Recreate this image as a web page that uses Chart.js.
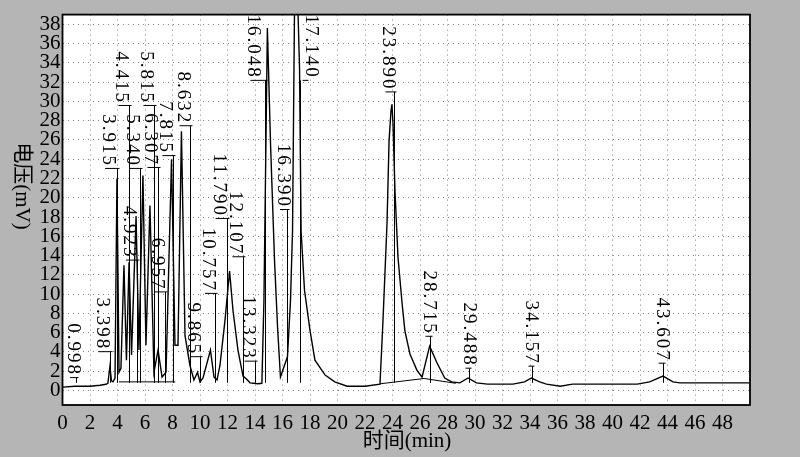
<!DOCTYPE html>
<html><head><meta charset="utf-8">
<script src="https://cdn.jsdelivr.net/npm/chart.js@4.4.1/dist/chart.umd.min.js"></script>
<style>html,body{margin:0;padding:0;background:#b5b5b5;}#wrap{width:800px;height:457px;position:relative;}</style>
</head><body><div id="wrap"><canvas id="c" width="800" height="457"></canvas></div>
<script>
// chromatogram trace: time (min) and voltage (mV)
const signalTime = [0.0,0.9,2.0,2.73,3.16,3.3,3.45,3.56,3.67,3.82,3.96,4.11,4.25,4.47,4.65,4.84,5.02,5.35,5.56,5.85,6.07,6.36,6.65,6.95,7.24,7.53,7.93,8.18,8.4,8.65,8.91,9.27,9.56,9.82,10.0,10.22,10.76,11.02,11.24,11.45,11.82,12.15,12.4,12.76,13.13,13.38,13.64,14.2,14.5,14.65,14.9,15.13,15.42,15.64,15.85,16.36,16.58,16.73,16.87,17.0,17.24,17.35,17.6,18.0,18.36,19.1,19.8,20.7,22.0,23.09,23.3,23.6,23.75,23.89,23.96,24.04,24.18,24.4,24.7,24.9,25.27,25.78,26.15,26.7,27.24,27.8,28.3,28.9,29.5,30.1,30.9,32.76,33.6,34.1,34.7,35.2,36.2,37.1,38.9,41.8,42.7,43.67,44.4,44.9,50.0];
const signalMv   = [0.35,0.45,0.45,0.55,0.65,0.75,2.5,1.0,0.9,1.3,22.0,1.9,2.3,13.0,3.15,13.3,3.7,18.1,4.2,22.3,4.7,19.2,1.9,4.2,1.4,1.9,24.0,4.7,4.7,26.9,5.7,2.6,1.1,1.9,0.9,1.3,4.2,1.4,1.1,2.6,7.3,12.4,8.3,4.2,1.5,1.2,0.8,0.7,0.75,9.3,37.6,25.6,13.5,6.6,1.4,3.5,9.3,16.6,39.0,46.0,33.4,16.6,10.4,6.25,3.15,1.6,0.9,0.45,0.45,0.67,7.0,17.3,25.9,29.0,29.7,27.6,20.7,13.8,9.0,6.2,3.8,2.1,1.4,4.6,2.85,1.3,0.9,0.8,1.3,0.8,0.67,0.67,0.9,1.3,0.9,0.67,0.45,0.67,0.67,0.67,0.9,1.5,0.9,0.8,0.8];
// integration baseline segments
const baseTime = [4.1,8.2,null,23.1,26.3,28.6];
const baseMv   = [0.9,0.9,null,0.7,1.25,0.75];
// peak annotations
const peakLabels = ['0.998','3.398','3.915','4.415','4.923','5.340','5.815','6.307','6.957','7.815','8.632','9.865','10.757','11.790','12.107','13.323','16.048','16.390','17.140','23.890','28.715','29.488','34.157','43.607'];
const labelTime  = [0.84,2.91,3.38,4.36,4.91,5.16,6.18,6.47,6.98,7.56,8.8,9.56,10.65,11.42,12.65,13.53,13.96,16.11,18.18,23.78,26.69,29.6,34.18,43.64];
const labelTopMv = [6.97,9.66,28.67,35.2,19.16,28.67,35.2,28.77,15.86,30.0,33.1,9.14,16.9,24.6,20.7,9.87,39.0,25.6,39.0,37.8,12.45,9.14,9.35,9.66];
const markTime   = [0.98,3.45,3.96,4.84,5.42,5.64,6.65,6.95,7.45,8.0,9.3,10.0,11.1,11.95,13.1,14.0,14.75,16.36,17.3,24.1,26.7,29.55,34.15,43.65];
const xTicksMax = 48;

const serif = '"Liberation Serif","Noto Sans CJK SC",serif';
const deco = {
  id:'deco',
  beforeDraw(chart){
    const {ctx, chartArea:a} = chart;
    ctx.save();
    ctx.fillStyle='#b5b5b5'; ctx.fillRect(0,0,chart.width,chart.height);
    ctx.fillStyle='#ffffff'; ctx.fillRect(a.left,a.top,a.right-a.left,a.bottom-a.top);
    ctx.restore();
  },
  afterDatasetsDraw(chart){
    const {ctx, chartArea:a, scales:{x,y}} = chart;
    ctx.save();
    ctx.beginPath(); ctx.rect(a.left,a.top,a.right-a.left,a.bottom-a.top); ctx.clip();
    ctx.font = '19px '+serif;
    ctx.fillStyle='#000'; ctx.strokeStyle='#000'; ctx.lineWidth=1;
    ctx.letterSpacing='2px';
    peakLabels.forEach((s,i)=>{
      const cx = x.getPixelForValue(labelTime[i]);
      const ty = y.getPixelForValue(labelTopMv[i]);
      const w = ctx.measureText(s).width;
      ctx.save(); ctx.translate(cx, ty); ctx.rotate(Math.PI/2);
      ctx.textAlign='left'; ctx.textBaseline='middle';
      ctx.fillText(s, 0, 1);
      ctx.restore();
      const by = ty + w;
      const mx = Math.round(x.getPixelForValue(markTime[i]))+0.5;
      ctx.beginPath();
      ctx.moveTo(cx-4, by+1.5); ctx.lineTo(mx+2, by+1.5);
      ctx.moveTo(mx, by+1.5); ctx.lineTo(mx, y.getPixelForValue(0.8));
      ctx.stroke();
    });
    ctx.restore();
    ctx.save();
    ctx.strokeStyle='#000'; ctx.lineWidth=1.8;
    ctx.strokeRect(a.left,a.top,a.right-a.left,a.bottom-a.top);
    ctx.restore();
  },
  afterDraw(chart){
    const {ctx} = chart;
    ctx.save();
    ctx.fillStyle='#000';
    ctx.font='21px '+serif;
    ctx.textAlign='center'; ctx.textBaseline='middle';
    ctx.fillText('时间(min)', 407, 441);
    ctx.translate(22,186); ctx.rotate(Math.PI/2);
    ctx.fillText('电压(mV)', 0, 0);
    ctx.restore();
  }
};

const pts = signalTime.map((t,i)=>({x:t,y:signalMv[i]}));
const bpts = baseTime.map((t,i)=>t===null?{x:null,y:null}:({x:t,y:baseMv[i]}));
new Chart(document.getElementById('c'),{
  type:'line',
  data:{datasets:[
    {data:pts,borderColor:'#000',borderWidth:1.4,pointRadius:0,tension:0,fill:false},
    {data:bpts,borderColor:'#000',borderWidth:1,pointRadius:0,tension:0,fill:false,spanGaps:false}
  ]},
  options:{
    responsive:false,animation:false,
    layout:{padding:{left:0,right:50,top:13,bottom:0}},
    plugins:{legend:{display:false},tooltip:{enabled:false}},
    scales:{
      x:{type:'linear',min:0,max:50,
        afterFit(s){s.height=52;},
        ticks:{stepSize:2,autoSkip:false,maxRotation:0,includeBounds:false,padding:6,color:'#000',
          font:{family:serif,size:21},
          callback:v=> v>xTicksMax?'':String(v)},
        grid:{color:'rgba(0,0,0,0.5)',lineWidth:1,drawTicks:false},
        border:{display:false,dash:[1,4]}},
      y:{type:'linear',min:-1.5,max:39,
        afterFit(s){s.width=62.5;},
        ticks:{stepSize:2,autoSkip:false,includeBounds:false,padding:2,color:'#000',
          font:{family:serif,size:21}},
        grid:{color:'rgba(0,0,0,0.5)',lineWidth:1,drawTicks:false},
        border:{display:false,dash:[1,4]}}
    }
  },
  plugins:[deco]
});
</script></body></html>
